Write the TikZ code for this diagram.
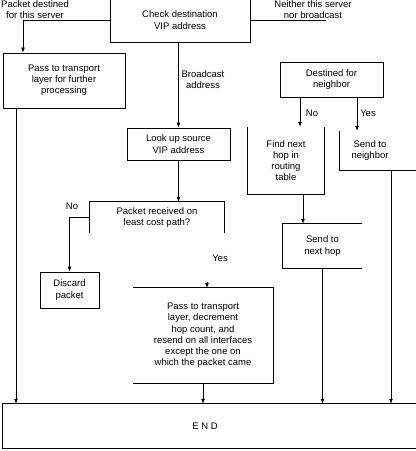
\documentclass[tikz,border=0pt]{standalone}
\usepackage{fontspec}
\setmainfont{Liberation Sans}
\usetikzlibrary{arrows.meta,calc}
\begin{document}
\begin{tikzpicture}[x=1pt,y=-1pt,
  every node/.style={font=\fontsize{9.5}{11.2}\selectfont, align=center, inner sep=0pt},
  boxn/.style={rectangle, draw, line width=0.8pt},
  plainbox/.style={rectangle},
  conn/.style={line width=0.8pt, -{Latex[length=5pt,width=4pt]}},
  edge line/.style={line width=0.8pt}]
\useasboundingbox (0,0) rectangle (416,451);
\clip (0,0) rectangle (416,451);

% boxes
\node[boxn, minimum width=140pt, minimum height=44pt] (check) at (180,20) {Check destination\\VIP address};
\node[boxn, minimum width=122pt, minimum height=55pt] (pass1) at (64,80.5) {Pass to transport\\layer for further\\processing};
\node[boxn, minimum width=103pt, minimum height=35pt] (destined) at (331.5,79.5) {Destined for\\neighbor};
\node[boxn, minimum width=103pt, minimum height=32pt] (lookup) at (178.5,144) {Look up source\\VIP address};
\node[plainbox, minimum width=76pt, minimum height=67pt] (find) at (286,160.5) {Find next\\hop in\\routing\\table};
\node[plainbox, minimum width=60pt, minimum height=39pt] (sendnb) at (370,150.5) {Send to\\neighbor};
\node[plainbox, minimum width=79pt, minimum height=44pt] (nexthop) at (322.5,246) {Send to\\next hop};
\node[plainbox, minimum width=134pt, minimum height=31pt] (packet) at (157,217.5) {Packet received on\\least cost path?};
\node[boxn, minimum width=59pt, minimum height=36pt] (discard) at (69.5,290) {Discard\\packet};
\node[plainbox, minimum width=140pt, minimum height=95pt] (pass2) at (203,335.5) {Pass to transport\\layer, decrement\\hop count, and\\resend on all interfaces\\except the one on\\which the packet came};
\node[plainbox, minimum width=404pt, minimum height=44pt] (end) at (205,426) {E N D};

% partial box outlines
\draw[edge line] (find.north west) -- (find.south west) -- (find.south east) -- (find.north east);
\draw[edge line] (sendnb.north west) -- (sendnb.south west) -- ([xshift=30pt]sendnb.south east);
\draw[edge line] (nexthop.north east) -- (nexthop.north west) -- (nexthop.south west) -- (nexthop.south east);
\draw[edge line] (packet.south west) -- (packet.north west) -- (packet.north east) -- (packet.south east);
\draw[edge line] (pass2.north west) -- (pass2.north east) -- (pass2.south east) -- (pass2.south west);
\draw[edge line] (end.north west) rectangle ([xshift=20pt]end.south east);

% connectors
\draw[conn] (check.west) -| ([xshift=-41pt]pass1.north);
\coordinate (nb) at (326,20);
\draw[edge line] (check.east) -- (nb);
\draw[conn] (check.south -| lookup.north) -- (lookup.north);
\draw[conn] (lookup.south) -- (lookup.south |- packet.north);
\draw[conn] (packet.west) -| (discard.north);
\coordinate (ys) at (207,282);
\draw[conn] (ys) -- (ys |- pass2.north);
\coordinate (fn) at ([xshift=14pt]find.north);
\draw[conn] (destined.south -| fn) -- (fn);
\coordinate (sn) at ([xshift=-13pt]sendnb.north);
\draw[conn] (destined.south -| sn) -- (sn);
\coordinate (fs) at ([xshift=17pt]find.south);
\draw[conn] (fs) -- (fs |- nexthop.north);
\coordinate (p1) at ([xshift=-48pt]pass1.south);
\draw[conn] (p1) -- (p1 |- end.north);
\draw[conn] (pass2.south) -- (pass2.south |- end.north);
\draw[conn] (nexthop.south) -- (nexthop.south |- end.north);
\coordinate (ss) at ([xshift=21pt]sendnb.south);
\draw[conn] (ss) -- (ss |- end.north);

% labels
\node (l1) at (35,9.5) {Packet destined\\for this server};
\node (l2) at (313,9.5) {Neither this server\\nor broadcast};
\node (l3) at (203,79.5) {Broadcast\\address};
\node (l4) at (72,206) {No};
\node (l5) at (220,258) {Yes};
\node (l6) at (312,113) {No};
\node (l7) at (368,113) {Yes};
\end{tikzpicture}
\end{document}
